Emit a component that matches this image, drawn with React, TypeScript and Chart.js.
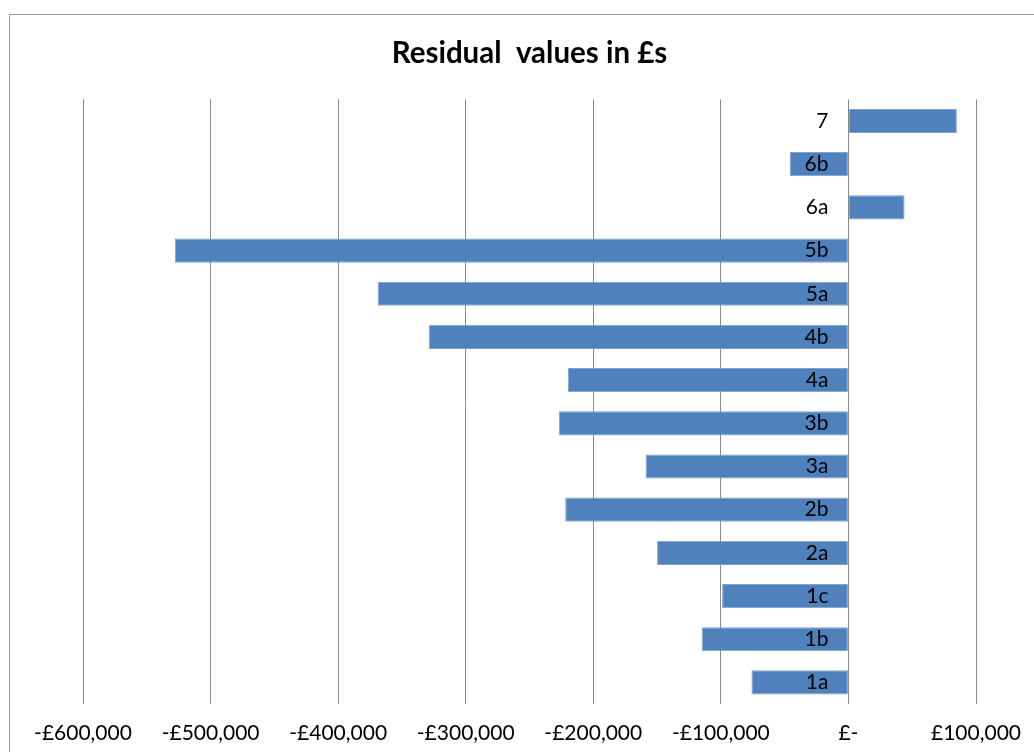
import React, { useEffect, useRef } from "react";
import { Chart, registerables } from "chart.js";

Chart.register(...registerables);

const categories: string[] = ["1a", "1b", "1c", "2a", "2b", "3a", "3b", "4a", "4b", "5a", "5b", "6a", "6b", "7"];
const residuals: number[] = [-76000, -115000, -99000, -150000, -222000, -159000, -227000, -220000, -329000, -369000, -528000, 44000, -46000, 85000];
const axisMin = -600000;
const axisMax = 100000;
const axisStep = 100000;
const titleText = "Residual  values in £s";

const FONT = "Lato, 'Open Sans', sans-serif";

function formatPounds(v: number): string {
  if (v === 0) return "£-";
  const abs = Math.abs(v).toLocaleString("en-GB");
  return (v < 0 ? "-£" : "£") + abs;
}

const categoryLabelPlugin = {
  id: "categoryLabels",
  afterDatasetsDraw(chart: any) {
    const { ctx, scales } = chart;
    const xs = scales.x;
    const ys = scales.y;
    const x0 = xs.getPixelForValue(0) - 20;
    ctx.save();
    ctx.font = `21px ${FONT}`;
    ctx.fillStyle = "#000000";
    ctx.textAlign = "right";
    ctx.textBaseline = "middle";
    (chart.data.labels as string[]).forEach((lab, i) => {
      ctx.fillText(lab, x0, ys.getPixelForValue(i));
    });
    ctx.restore();
  },
};

export default function App() {
  const ref = useRef<HTMLCanvasElement | null>(null);

  useEffect(() => {
    if (!ref.current) return;
    const chart = new Chart(ref.current, {
      type: "bar",
      data: {
        labels: categories,
        datasets: [
          {
            data: residuals,
            backgroundColor: "#4F81BD",
            borderColor: "#7fa2d2",
            borderWidth: 1,
            borderSkipped: false,
            barPercentage: 0.56,
            categoryPercentage: 1,
          },
        ],
      },
      options: {
        indexAxis: "y",
        animation: false,
        responsive: false,
        maintainAspectRatio: false,
        layout: { padding: { left: 83, right: 58, top: 0, bottom: 0 } },
        plugins: {
          legend: { display: false },
          tooltip: { enabled: false },
          title: {
            display: true,
            text: titleText,
            fullSize: false,
            color: "#000000",
            font: { family: FONT, size: 29.5, weight: "bold" },
            padding: { top: 36, bottom: 28 },
          },
        },
        scales: {
          x: {
            type: "linear",
            min: axisMin,
            max: axisMax,
            border: { display: false },
            grid: { color: "#8a8a8a", lineWidth: 1, drawTicks: false },
            afterFit: (scale: any) => {
              scale.height = 48;
              scale.paddingLeft = 0;
              scale.paddingRight = 0;
            },
            ticks: {
              stepSize: axisStep,
              padding: 17,
              maxRotation: 0,
              autoSkip: false,
              color: "#000000",
              font: { family: FONT, size: 21 },
              callback: (v: any) => formatPounds(Number(v)),
            },
          },
          y: {
            type: "category",
            reverse: true,
            display: false,
          },
        },
      },
      plugins: [categoryLabelPlugin],
    } as any);
    return () => chart.destroy();
  }, []);

  return (
    <div style={{ position: "fixed", left: 0, top: 0, width: 1034, height: 752, overflow: "hidden", background: "#ffffff" }}>
      <div style={{ position: "absolute", left: 9, top: 14, width: 1100, height: 800, border: "1px solid #9a9a9a" }} />
      <canvas ref={ref} width={1034} height={752} style={{ position: "absolute", left: 0, top: 0, width: 1034, height: 752 }} />
    </div>
  );
}
